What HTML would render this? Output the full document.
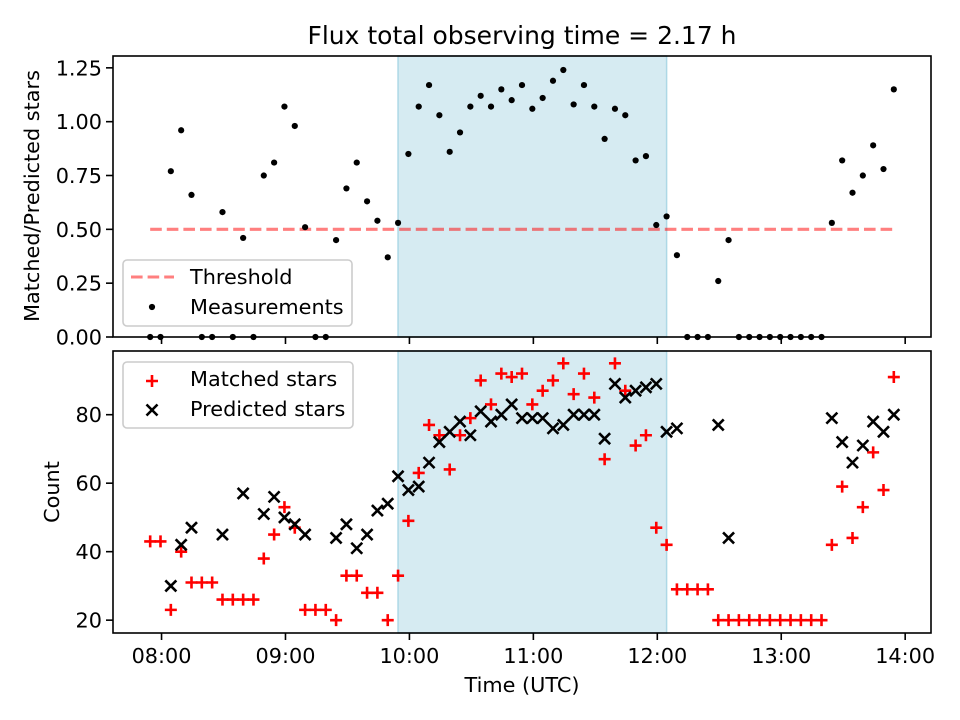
<!DOCTYPE html>
<html><head><meta charset="utf-8">
<style>
html,body{margin:0;padding:0;background:#fff;}
svg{display:block;font-family:"DejaVu Sans","Liberation Sans",sans-serif;}
</style></head>
<body>
<svg id="chart" width="960" height="720" viewBox="0 0 960 720" xmlns="http://www.w3.org/2000/svg">
<rect x="0" y="0" width="960" height="720" fill="#fff"/>
<text x="522" y="44" font-size="25" text-anchor="middle" fill="#000">Flux total observing time = 2.17 h</text>
<text transform="translate(39,196) rotate(-90)" font-size="20.8" text-anchor="middle" fill="#000">Matched/Predicted stars</text>
<text transform="translate(59,492) rotate(-90)" font-size="20.8" text-anchor="middle" fill="#000">Count</text>
<text x="522" y="692" font-size="20.8" text-anchor="middle" fill="#000">Time (UTC)</text>
<g id="topPanel"></g>
<g id="botPanel"></g>
</svg>
<script>
// minutes after 08:00 UTC
const times = [-5.5,-0.5,4.5,9.5,14.5,19.5,24.5,29.5,34.5,39.5,44.5,49.5,54.5,59.5,64.5,69.5,74.5,79.5,84.5,89.5,94.5,99.5,104.5,109.5,114.5,119.5,124.5,129.5,134.5,139.5,144.5,149.5,154.5,159.5,164.5,169.5,174.5,179.5,184.5,189.5,194.5,199.5,204.5,209.5,214.5,219.5,224.5,229.5,234.5,239.5,244.5,249.5,254.5,259.5,264.5,269.5,274.5,279.5,284.5,289.5,294.5,299.5,304.5,309.5,314.5,319.5,324.5,329.5,334.5,339.5,344.5,349.5,354.5];
const ratio = [0,0,0.77,0.96,0.66,0,0,0.58,0,0.46,0,0.75,0.81,1.07,0.98,0.51,0,0,0.45,0.69,0.81,0.63,0.54,0.37,0.53,0.85,1.07,1.17,1.03,0.86,0.95,1.07,1.12,1.07,1.15,1.10,1.17,1.06,1.11,1.19,1.24,1.08,1.17,1.07,0.92,1.06,1.03,0.82,0.84,0.52,0.56,0.38,0,0,0,0.26,0.45,0,0,0,0,0,0,0,0,0,0.53,0.82,0.67,0.75,0.89,0.78,1.15];
const matched = [43,43,23,40,31,31,31,26,26,26,26,38,45,53,47,23,23,23,20,33,33,28,28,20,33,49,63,77,74,64,74,79,90,83,92,91,92,83,87,90,95,86,92,85,67,95,87,71,74,47,42,29,29,29,29,20,20,20,20,20,20,20,20,20,20,20,42,59,44,53,69,58,91];
const predicted = [null,null,30,42,47,null,null,45,null,57,null,51,56,50,48,45,null,null,44,48,41,45,52,54,62,58,59,66,72,75,78,74,81,78,80,83,79,79,79,76,77,80,80,80,73,89,85,87,88,89,75,76,null,null,null,77,44,null,null,null,null,null,null,null,null,null,79,72,66,71,78,75,80];
const threshold = [0.5];
const windowRange = [114.5, 244.5];
const xTickLabels = ["08:00","09:00","10:00","11:00","12:00","13:00","14:00"];
const xTickValues = [0,60,120,180,240,300,360];
const topTicks = [0,0.25,0.5,0.75,1.0,1.25];
const botTicks = [20,40,60,80];

const NS = "http://www.w3.org/2000/svg";
const L = 113, R = 931;
const xmin = -23.5, xmax = 372.5;
const xs = t => L + (t - xmin) / (xmax - xmin) * (R - L);
const topP = {y0: 56, y1: 337, lo: 0, hi: 1.305};
const botP = {y0: 351, y1: 633, lo: 16.25, hi: 98.6};
const ysT = v => topP.y1 - (v - topP.lo) / (topP.hi - topP.lo) * (topP.y1 - topP.y0);
const ysB = v => botP.y1 - (v - botP.lo) / (botP.hi - botP.lo) * (botP.y1 - botP.y0);

function mk(tag, attrs, parent) {
  const e = document.createElementNS(NS, tag);
  for (const k in attrs) e.setAttribute(k, attrs[k]);
  parent.appendChild(e);
  return e;
}
function txt(parent, x, y, s, anchor, size) {
  const t = mk("text", {x: x, y: y, "font-size": size || 20.8, "text-anchor": anchor, fill: "#000"}, parent);
  t.textContent = s;
  return t;
}

function drawPanel(g, P, ys, ticks, fmt, name) {
  const sh = mk("rect", {x: xs(windowRange[0]), y: P.y0, width: xs(windowRange[1]) - xs(windowRange[0]), height: P.y1 - P.y0, fill: "#add8e6", "fill-opacity": 0.5, stroke: "#add8e6", "stroke-width": 1.5}, g);
  
  
  ticks.forEach(v => {
    const y = ys(v);
    const tk = mk("line", {x1: L - 7, x2: L, y1: y, y2: y, stroke: "#000", "stroke-width": 1.6}, g);
    
    
    const lb = txt(g, L - 11, y + 7.5, fmt(v), "end");
    
    
  });
  xTickValues.forEach((v, i) => {
    const x = xs(v);
    const tk = mk("line", {x1: x, x2: x, y1: P.y1, y2: P.y1 + 7, stroke: "#000", "stroke-width": 1.6}, g);
    
    
    if (name === 'bottom') {
      const lb = txt(g, x, P.y1 + 30, xTickLabels[i], "middle");
      
      
    }
  });
}

const topG = document.getElementById("topPanel");
const botG = document.getElementById("botPanel");
drawPanel(topG, topP, ysT, topTicks, v => v.toFixed(2), 'top');
drawPanel(botG, botP, ysB, botTicks, v => String(v), 'bottom');

const th = mk("line", {x1: xs(times[0]), x2: xs(times[times.length - 1]), y1: ysT(threshold[0]), y2: ysT(threshold[0]), stroke: "#ff0000", "stroke-opacity": 0.5, "stroke-width": 3.1, "stroke-dasharray": "11.6,5"}, topG);



times.forEach((t, i) => {
  const c = mk("circle", {cx: xs(t), cy: ysT(ratio[i]), r: 3.1, fill: "#000"}, topG);
  
  
});

function plus(g, x, y, col) {
  return mk("path", {d: `M${x-6},${y}H${x+6}M${x},${y-6}V${y+6}`, stroke: col, "stroke-width": 2.6, fill: "none"}, g);
}
function cross(g, x, y, col) {
  return mk("path", {d: `M${x-5.5},${y-5.5}L${x+5.5},${y+5.5}M${x-5.5},${y+5.5}L${x+5.5},${y-5.5}`, stroke: col, "stroke-width": 2.6, fill: "none"}, g);
}
times.forEach((t, i) => {
  if (matched[i] == null) return;
  const e = plus(botG, xs(t), ysB(matched[i]), "#ff0000");
  
  
});
times.forEach((t, i) => {
  if (predicted[i] == null) return;
  const e = cross(botG, xs(t), ysB(predicted[i]), "#000");
  
  
});

[topP, botP].forEach((P, k) => {
  const f = mk("rect", {x: L, y: P.y0, width: R - L, height: P.y1 - P.y0, fill: "none", stroke: "#000", "stroke-width": 1.6}, k ? botG : topG);
  
  
});

const lg1 = mk("g", {}, topG);


mk("rect", {x: 123, y: 260, width: 229, height: 66, rx: 4, fill: "#fff", "fill-opacity": 0.8, stroke: "#cccccc", "stroke-width": 1.6}, lg1);
mk("line", {x1: 131, x2: 174, y1: 277, y2: 277, stroke: "#ff0000", "stroke-opacity": 0.5, "stroke-width": 3.1, "stroke-dasharray": "11.6,5"}, lg1);
const t1 = txt(lg1, 190, 284, "Threshold", "start");


mk("circle", {cx: 152, cy: 307, r: 3.1, fill: "#000"}, lg1);
const t2 = txt(lg1, 190, 314, "Measurements", "start");



const lg2 = mk("g", {}, botG);


mk("rect", {x: 123, y: 362, width: 230, height: 66, rx: 4, fill: "#fff", "fill-opacity": 0.8, stroke: "#cccccc", "stroke-width": 1.6}, lg2);
plus(lg2, 152, 381, "#ff0000");
const t3 = txt(lg2, 190, 386, "Matched stars", "start");


cross(lg2, 152, 410, "#000");
const t4 = txt(lg2, 190, 416, "Predicted stars", "start");


</script>
</body></html>
